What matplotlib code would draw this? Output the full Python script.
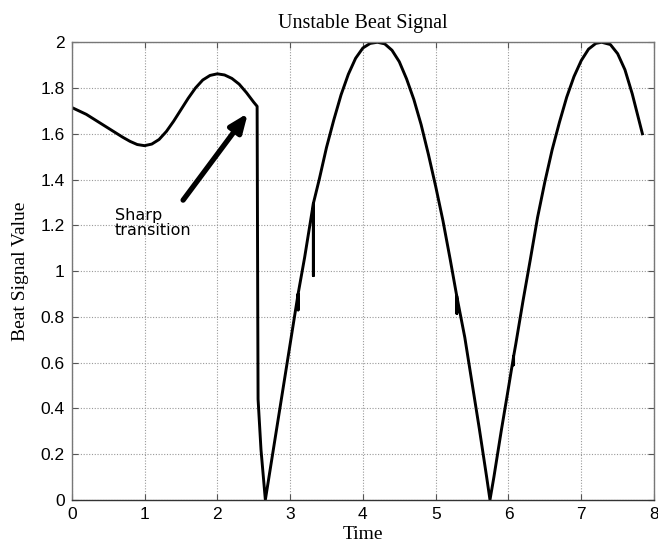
import numpy as np
import matplotlib
matplotlib.use('Agg')
from matplotlib import pyplot as plt

# curve, (time, value); spikes are the repeated x values
t = [0.0, 0.1, 0.2, 0.3, 0.4, 0.5, 0.6, 0.7, 0.8, 0.9, 1.0, 1.1, 1.2, 1.3, 1.4, 1.5, 1.6, 1.7,
     1.8, 1.9, 2.0, 2.1, 2.2, 2.3, 2.4, 2.5, 2.547,
     2.552, 2.556, 2.56, 2.6, 2.66,
     2.7, 2.8, 2.9, 3.0, 3.11, 3.11, 3.11, 3.2, 3.32, 3.32, 3.32, 3.4, 3.5, 3.6, 3.7, 3.8,
     3.9, 4.0, 4.1, 4.2, 4.3, 4.4, 4.5, 4.6, 4.7, 4.8, 4.9, 5.0, 5.1, 5.2,
     5.29, 5.29, 5.29, 5.4, 5.5, 5.6, 5.7, 5.746,
     5.8, 5.9, 6.0, 6.07, 6.07, 6.07, 6.1, 6.2, 6.3, 6.4, 6.5, 6.6, 6.7, 6.8, 6.9, 7.0, 7.1,
     7.2, 7.28, 7.4, 7.5, 7.6, 7.7, 7.8, 7.84]
v = [1.715, 1.70, 1.685, 1.665, 1.645, 1.625, 1.605, 1.585, 1.567, 1.553, 1.548, 1.555, 1.575,
     1.61, 1.655, 1.705, 1.755, 1.80, 1.835, 1.855, 1.862, 1.857, 1.842, 1.817, 1.78, 1.738, 1.72,
     1.2, 0.8, 0.44, 0.22, 0.0,
     0.08, 0.28, 0.48, 0.68, 0.9, 0.83, 0.9, 1.06, 1.296, 0.98, 1.296, 1.40, 1.54, 1.66, 1.77,
     1.86, 1.93, 1.975, 1.995, 2.0, 1.993, 1.965, 1.915, 1.84, 1.75, 1.64, 1.51, 1.37, 1.22,
     1.05, 0.89, 0.815, 0.89, 0.71, 0.51, 0.31, 0.1, 0.0,
     0.1, 0.3, 0.49, 0.626, 0.59, 0.626, 0.68, 0.87, 1.05, 1.235, 1.39, 1.53, 1.65, 1.76, 1.85,
     1.92, 1.97, 1.995, 2.0, 1.99, 1.95, 1.88, 1.775, 1.65, 1.60]

xticks = [0, 1, 2, 3, 4, 5, 6, 7, 8]
yticks = [0, 0.2, 0.4, 0.6, 0.8, 1, 1.2, 1.4, 1.6, 1.8, 2]
ytick_labels = ['0', '0.2', '0.4', '0.6', '0.8', '1', '1.2', '1.4', '1.6', '1.8', '2']

fig = plt.figure(figsize=(6.58, 5.56), dpi=100)
ax = fig.add_axes([0.109, 0.101, 0.885, 0.823])

ax.plot(t, v, color='black', lw=2.1, solid_joinstyle='round')

ax.set_xlim(0, 8)
ax.set_ylim(0, 2)
ax.set_xticks(xticks)
ax.set_yticks(yticks)
ax.set_yticklabels(ytick_labels)
ax.tick_params(direction='in', length=4, top=True, right=True, labelsize=12.5,
               color='#555555', pad=5)
for lab in ax.get_xticklabels() + ax.get_yticklabels():
    lab.set_family('Liberation Sans')
ax.grid(True, linestyle=(0, (1, 1.5)), color='#999999', lw=0.8)
for s in ax.spines.values():
    s.set_color('#777777')
    s.set_linewidth(1.0)
ax.spines['bottom'].set_color('#333333')

ax.set_title('Unstable Beat Signal', family='Liberation Serif', fontsize=14.5, pad=10)
ax.set_xlabel('Time', family='Liberation Serif', fontsize=14, labelpad=3)
ax.set_ylabel('Beat Signal Value', family='Liberation Serif', fontsize=14, labelpad=8)

# arrow and its note
ax.annotate('', xy=(2.42, 1.69), xytext=(1.53, 1.31),
            arrowprops=dict(arrowstyle='-|>,head_width=0.45,head_length=1.1',
                            color='black', lw=3.8, shrinkA=0, shrinkB=0))
ax.text(0.59, 1.21, 'Sharp\ntransition', family='DejaVu Sans', fontsize=11.5,
        ha='left', va='center', linespacing=1.0)

fig.savefig('out.png', dpi=100)
